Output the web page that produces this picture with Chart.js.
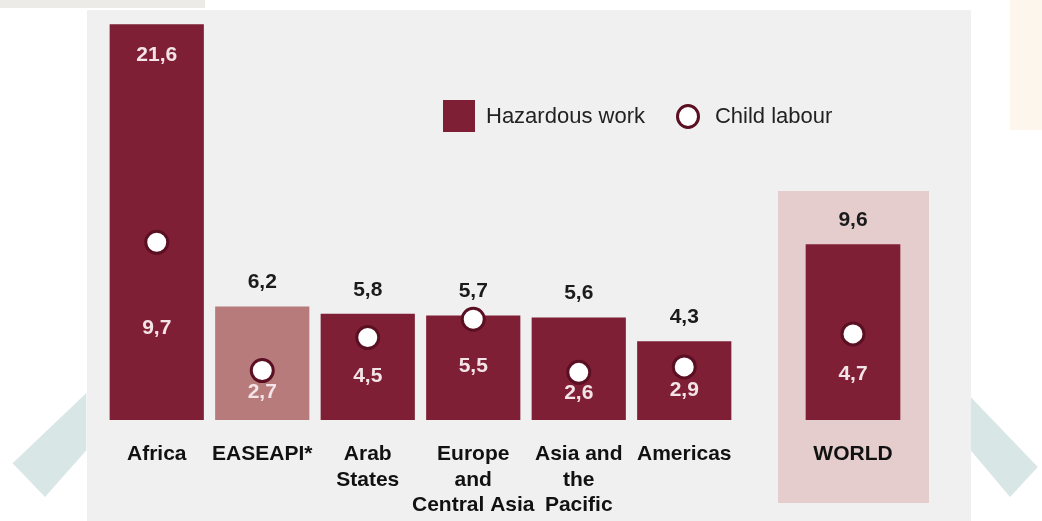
<!DOCTYPE html>
<html>
<head>
<meta charset="utf-8">
<script src="https://cdn.jsdelivr.net/npm/chart.js@4.4.1/dist/chart.umd.min.js"></script>
<style>
  html, body { margin: 0; padding: 0; background: #fff; }
  #stage { position: relative; width: 1042px; height: 521px; overflow: hidden; font-family: "Liberation Sans", Arial, sans-serif; }
  .strip { position: absolute; left: 0; top: 0; width: 205px; height: 8px; background: #ecebe8; }
  .cream { position: absolute; left: 1010px; top: 0; width: 32px; height: 130px; background: #fdf6ec; }
  .mark { position: absolute; background: #d9e6e6; }
  .mark.left { left: 0; top: 380px; width: 90px; height: 130px; clip-path: polygon(96% 10%, 14% 64%, 50% 90%, 96% 54%); }
  .mark.right { left: 960px; top: 380px; width: 82px; height: 130px; clip-path: polygon(13% 13%, 95% 67%, 61% 90%, 13% 54%); }
  .panel { position: absolute; left: 87px; top: 10px; width: 884px; height: 511px; background: #f0f0f0; }
  .world-panel { position: absolute; left: 778px; top: 191px; width: 151px; height: 312px; background: #e5cdcd; }
  canvas { position: absolute; top: 0; }
  #regionChart { left: 0; }
  #worldChart { left: 760px; }
  .legend { position: absolute; left: 443px; top: 100px; height: 32px; display: flex; align-items: center; font-size: 22px; color: #222; }
  .legend .box { width: 32px; height: 32px; background: #7f1f35; margin-right: 11px; }
  .legend .dot { width: 18px; height: 19px; border: 3px solid #5b0f22; border-radius: 50%; background: #fff; margin: 0 15px 0 31px; }
</style>
</head>
<body>
<div id="stage">
  <div class="strip"></div>
  <div class="cream"></div>
  <div class="mark left"></div>
  <div class="mark right"></div>
  <div class="panel"></div>
  <div class="world-panel"></div>
  <canvas id="regionChart" width="760" height="521"></canvas>
  <canvas id="worldChart" width="200" height="521"></canvas>
  <div class="legend">
    <span class="box"></span><span>Hazardous work</span>
    <span class="dot"></span><span>Child labour</span>
  </div>
</div>
<script>
  // regional figures (%)
  const regions = [
    ["Africa"],
    ["EASEAPI*"],
    ["Arab", "States"],
    ["Europe", "and", "Central Asia"],
    ["Asia and", "the", "Pacific"],
    ["Americas"],
  ];
  const childLabour = [21.6, 6.2, 5.8, 5.7, 5.6, 4.3];
  const hazardousWork = [9.7, 2.7, 4.5, 5.5, 2.6, 2.9];

  const world = [["WORLD"]];
  const worldChildLabour = [9.6];
  const worldHazardousWork = [4.7];

  const FONT = '"Liberation Sans", Arial, sans-serif';
  const MAROON = "#7f1f35";
  const LIGHT = "#b87b7b";

  const fmt = (v) => v.toFixed(1).replace(".", ",");

  const valueLabels = {
    id: "valueLabels",
    afterDatasetsDraw(chart) {
      const ctx = chart.ctx;
      const area = chart.chartArea;
      const bars = chart.getDatasetMeta(0).data;
      const dots = chart.getDatasetMeta(1).data;
      const barVals = chart.data.datasets[0].data;
      const dotVals = chart.data.datasets[1].data;
      ctx.save();
      ctx.font = `bold 21px ${FONT}`;
      ctx.textAlign = "center";
      ctx.textBaseline = "middle";
      bars.forEach((bar, i) => {
        const inside = bar.y - 24 < area.top;
        ctx.fillStyle = inside ? "#f3e4e7" : "#1b1b1b";
        ctx.fillText(fmt(barVals[i]), bar.x, inside ? bar.y + 31 : bar.y - 24);
        const dot = dots[i];
        ctx.fillStyle = "#f3e4e7";
        ctx.fillText(fmt(dotVals[i]), dot.x, (dot.y + bar.base) / 2 - 3);
      });
      ctx.restore();
    },
  };

  const makeChart = (id, labels, bars, dots, colors, padLeft, padRight) =>
    new Chart(document.getElementById(id), {
      data: {
        labels,
        datasets: [
          {
            type: "bar",
            data: bars,
            backgroundColor: colors,
            categoryPercentage: 1,
            barPercentage: 0.893,
            order: 1,
          },
          {
            type: "line",
            data: dots,
            showLine: false,
            pointRadius: 11,
            pointBackgroundColor: "#ffffff",
            pointBorderColor: "#5b0f22",
            pointBorderWidth: 3,
            order: 0,
          },
        ],
      },
      options: {
        responsive: false,
        animation: false,
        layout: { padding: { left: padLeft, right: padRight, top: 17, bottom: 0 } },
        plugins: { legend: { display: false }, tooltip: { enabled: false } },
        scales: {
          y: { display: false, min: 0, max: 22 },
          x: {
            grid: { display: false },
            border: { display: false },
            ticks: {
              color: "#111",
              font: { family: FONT, size: 21, weight: "bold", lineHeight: 1.2 },
              padding: 14,
              maxRotation: 0,
              autoSkip: false,
            },
            afterFit: (axis) => {
              axis.height = 101;
            },
          },
        },
      },
      plugins: [valueLabels],
    });

  makeChart(
    "regionChart",
    regions,
    childLabour,
    hazardousWork,
    regions.map((r) => (r[0] === "EASEAPI*" ? LIGHT : MAROON)),
    104,
    23
  );
  makeChart("worldChart", world, worldChildLabour, worldHazardousWork, MAROON, 40, 54);
</script>
</body>
</html>
